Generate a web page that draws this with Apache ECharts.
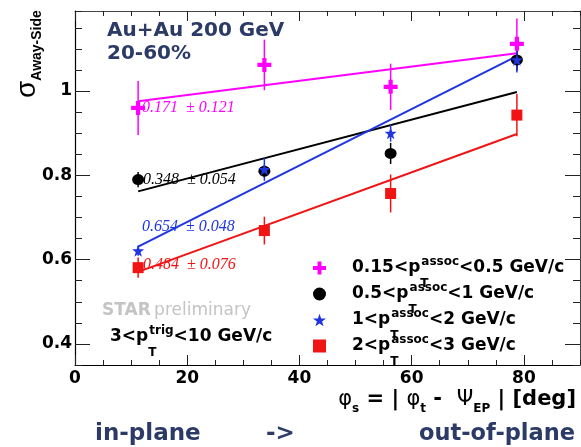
<!DOCTYPE html>
<html><head><meta charset="utf-8">
<script src="https://cdn.jsdelivr.net/npm/echarts@6/dist/echarts.min.js"></script>
<style>html,body{margin:0;padding:0;background:#fff}#c{width:581px;height:447px}</style>
</head><body><div id="c"></div>
<script>
// ---- data ----
const phiS = [11.25, 33.75, 56.25, 78.75];
const seriesNames = ['0.15<pT<0.5 GeV/c', '0.5<pT<1 GeV/c', '1<pT<2 GeV/c', '2<pT<3 GeV/c'];
const legendLow = ['0.15', '0.5', '1', '2'];
const legendHigh = ['0.5', '1', '2', '3'];
const sigMag = [0.96, 1.062, 1.01, 1.112];
const errMag = [0.064, 0.06, 0.055, 0.06];
const sigBlk = [0.79, 0.81, 0.852, 1.074];
const errBlk = [0.018, 0.015, 0.025, 0.025];
const sigBlu = [0.621, 0.814, 0.9, 1.074];
const errBlu = [0.012, 0.027, 0.02, 0.03];
const sigRed = [0.581, 0.669, 0.757, 0.943];
const errRed = [0.024, 0.033, 0.045, 0.05];
const fitX = [11.25, 78.75];
const fitMag = [0.976, 1.09];
const fitBlk = [0.762, 0.998];
const fitBlu = [0.631, 1.083];
const fitRed = [0.571, 0.898];
const fitText = ['0.171  \u00b1 0.121', '0.348  \u00b1 0.054', '0.654  \u00b1 0.048', '0.484  \u00b1 0.076'];
const yTicks = [0.4, 0.6, 0.8, 1];
const xTicks = [0, 20, 40, 60, 80];

// ---- styles ----
const F = 'DejaVu Sans';
const colors = ['#ff00ff', '#000000', '#1f35e0', '#f01414'];
const navy = '#2b3a66';
const symbols = [
  'path://M35,0H65V35H100V65H65V100H35V65H0V35H35Z',
  'circle',
  'path://M50,0L62,34L98,35L69,57L80,92L50,71L20,92L31,57L2,35L38,34Z',
  'rect'
];
const symSizes = [14, [12, 11], 12, 11];
const sigAll = [sigMag, sigBlk, sigBlu, sigRed];
const errAll = [errMag, errBlk, errBlu, errRed];
const fitAll = [fitMag, fitBlk, fitBlu, fitRed];

const series = [];
fitAll.forEach((f, i) => {
  series.push({
    type: 'line', name: 'fit' + i, silent: true, showSymbol: false, z: 2,
    data: fitX.map((x, k) => [x, f[k]]),
    lineStyle: { color: colors[i], width: 2 }
  });
});
errAll.forEach((e, i) => {
  series.push({
    type: 'custom', name: 'err' + i, silent: true, z: 3,
    data: phiS.map((x, k) => [x, sigAll[i][k], e[k]]),
    renderItem: (params, api) => {
      const x = api.value(0), y = api.value(1), d = api.value(2);
      const p1 = api.coord([x, y - d]), p2 = api.coord([x, y + d]);
      return { type: 'line', shape: { x1: p1[0], y1: p1[1], x2: p2[0], y2: p2[1] },
        style: { stroke: colors[i], lineWidth: 1.5 } };
    }
  });
});
sigAll.forEach((s, i) => {
  series.push({
    type: 'scatter', name: seriesNames[i], z: 4,
    symbol: symbols[i], symbolSize: symSizes[i],
    itemStyle: { color: colors[i], opacity: 1 },
    data: phiS.map((x, k) => [x, s[k]])
  });
});

const rng = { min: 0.35, max: 1.19 };
const xr = { min: 0, max: 90 };
const tickLine = { color: '#222', width: 1 };

const legendRich = {
  b: { fontFamily: F, fontWeight: 'bold', fontSize: 17, color: '#000', fill: '#000', lineHeight: 44, verticalAlign: 'middle' },
  t: { fontFamily: F, fontWeight: 'bold', fontSize: 12, color: '#000', fill: '#000', lineHeight: 6, verticalAlign: 'bottom', width: 1 },
  a: { fontFamily: F, fontWeight: 'bold', fontSize: 12, color: '#000', fill: '#000', verticalAlign: 'top', padding: [10, 0, 0, 0] }
};

const fitLabelPos = [[142, 108], [143, 180], [142, 227], [143, 265]];

const option = {
  animation: false,
  backgroundColor: '#fff',
  grid: { left: 75, right: 1, top: 11, bottom: 82, containLabel: false },
  xAxis: [
    { type: 'value', ...xr, position: 'bottom',
      axisLine: { show: true, onZero: false, lineStyle: { color: '#000', width: 1.2 } },
      axisTick: { show: true, inside: true, length: 10, customValues: xTicks, lineStyle: tickLine },
      axisLabel: { customValues: xTicks, fontFamily: F, fontWeight: 'bold', fontSize: 17, color: '#000', margin: 5 },
      splitLine: { show: false } },
    { type: 'value', ...xr, interval: 5, position: 'bottom',
      axisLine: { show: false, onZero: false }, axisTick: { show: true, inside: true, length: 5, lineStyle: tickLine },
      axisLabel: { show: false }, splitLine: { show: false } },
    { type: 'value', ...xr, position: 'top',
      axisLine: { show: true, onZero: false, lineStyle: { color: '#444', width: 1 } },
      axisTick: { show: true, inside: true, length: 10, customValues: xTicks, lineStyle: tickLine },
      axisLabel: { show: false }, splitLine: { show: false } },
    { type: 'value', ...xr, interval: 5, position: 'top',
      axisLine: { show: false, onZero: false }, axisTick: { show: true, inside: true, length: 5, lineStyle: tickLine },
      axisLabel: { show: false }, splitLine: { show: false } }
  ],
  yAxis: [
    { type: 'value', ...rng, position: 'left',
      axisLine: { show: true, onZero: false, lineStyle: { color: '#000', width: 1.2 } },
      axisTick: { show: true, inside: true, length: 15, customValues: yTicks, lineStyle: tickLine },
      axisLabel: { customValues: yTicks, fontFamily: F, fontWeight: 'bold', fontSize: 17, color: '#000', margin: 3,
        formatter: v => (Math.abs(v - 1) < 1e-9 ? '1' : Number(v).toFixed(1)) },
      splitLine: { show: false } },
    { type: 'value', ...rng, interval: 0.05, position: 'left',
      axisLine: { show: false, onZero: false }, axisTick: { show: true, inside: true, length: 7, lineStyle: tickLine },
      axisLabel: { show: false }, splitLine: { show: false } },
    { type: 'value', ...rng, position: 'right',
      axisLine: { show: true, onZero: false, lineStyle: { color: '#444', width: 1 } },
      axisTick: { show: true, inside: true, length: 15, customValues: yTicks, lineStyle: tickLine },
      axisLabel: { show: false }, splitLine: { show: false } },
    { type: 'value', ...rng, interval: 0.05, position: 'right',
      axisLine: { show: false, onZero: false }, axisTick: { show: true, inside: true, length: 7, lineStyle: tickLine },
      axisLabel: { show: false }, splitLine: { show: false } }
  ],
  legend: {
    data: seriesNames,
    orient: 'vertical', left: 313, top: 256, padding: 0,
    itemWidth: 13, itemHeight: 13, itemGap: -8,
    selectedMode: false,
    textStyle: { padding: [0, 0, 0, 21], rich: legendRich },
    formatter: name => {
      const i = seriesNames.indexOf(name);
      return '{b|' + legendLow[i] + '<p}{t|T}{a|assoc}{b|<' + legendHigh[i] + ' GeV/c}';
    }
  },
  graphic: [
    { type: 'text', left: 107, top: 21, style: { text: 'Au+Au 200 GeV', fontFamily: F, fontWeight: 'bold', fontSize: 20, fill: navy } },
    { type: 'text', left: 107, top: 44, style: { text: '20-60%', fontFamily: F, fontWeight: 'bold', fontSize: 20, fill: navy } },
    ...fitText.map((t, i) => ({ type: 'text', x: fitLabelPos[i][0], y: fitLabelPos[i][1],
      style: { text: t, fontFamily: 'Liberation Serif', fontStyle: 'italic', fontSize: 16, fill: colors[i], verticalAlign: 'middle', align: 'left' } })),
    { type: 'text', x: 102, y: 311, style: { text: '{s|STAR} {p|preliminary}', verticalAlign: 'middle', align: 'left',
      rich: { s: { fontFamily: F, fontWeight: 'bold', fontSize: 17, fill: '#c4c4c4' },
              p: { fontFamily: F, fontSize: 17, fill: '#c4c4c4' } } } },
    { type: 'text', x: 110, y: 337, style: { text: '{b|3<p}{t|T}{a|trig}{b|<10 GeV/c}', verticalAlign: 'middle', align: 'left', rich: legendRich } },
    { type: 'text', x: 576, y: 400, style: {
      text: '{g|\u03c6}{s|s}{b| = | }{g|\u03c6}{s|t}{b| -  }{g|\u03a8}{s|EP}{b| | [deg]}', verticalAlign: 'middle', align: 'right',
      rich: {
        g: { fontFamily: F, fontSize: 21, fill: '#000', lineHeight: 30, verticalAlign: 'middle' },
        b: { fontFamily: F, fontWeight: 'bold', fontSize: 21, fill: '#000', lineHeight: 30, verticalAlign: 'middle' },
        s: { fontFamily: F, fontWeight: 'bold', fontSize: 12, fill: '#000', lineHeight: 12, verticalAlign: 'bottom' }
      } } },
    { type: 'text', x: 27, y: 98, rotation: Math.PI / 2, style: {
      text: '{s|\u03c3}{a|Away-Side}', verticalAlign: 'middle', align: 'left',
      rich: {
        s: { fontFamily: 'Liberation Sans', fontSize: 28, fill: '#000', lineHeight: 34, verticalAlign: 'middle' },
        a: { fontFamily: 'Liberation Sans', fontWeight: 'bold', fontSize: 14, fill: '#000', lineHeight: 16, verticalAlign: 'bottom' }
      } } },
    { type: 'text', x: 95, y: 434, style: { text: 'in-plane', fontFamily: F, fontWeight: 'bold', fontSize: 23, fill: navy, verticalAlign: 'middle' } },
    { type: 'text', x: 266, y: 434, style: { text: '->', fontFamily: F, fontWeight: 'bold', fontSize: 23, fill: navy, verticalAlign: 'middle' } },
    { type: 'text', x: 419, y: 434, style: { text: 'out-of-plane', fontFamily: F, fontWeight: 'bold', fontSize: 22.5, fill: navy, verticalAlign: 'middle' } }
  ],
  series: series
};

const chart = echarts.init(document.getElementById('c'), null, { renderer: 'canvas' });
chart.setOption(option);
</script></body></html>
